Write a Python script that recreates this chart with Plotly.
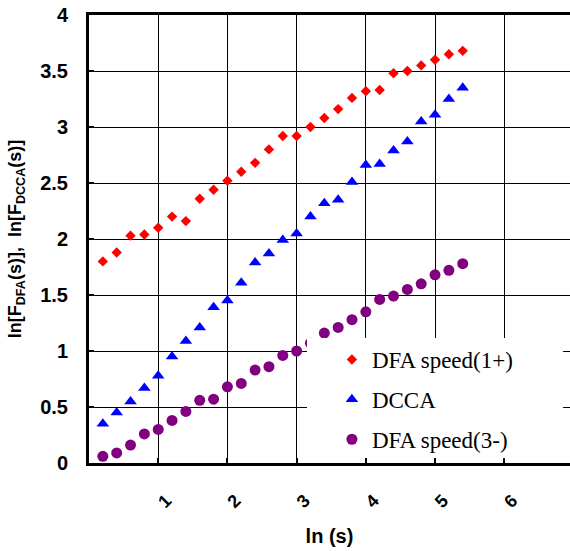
import plotly.graph_objects as go

# ---- data ----
ln_s = [0.2, 0.4, 0.6, 0.8, 1.0, 1.2, 1.4, 1.6, 1.8, 2.0, 2.2, 2.4, 2.6, 2.8,
        3.0, 3.2, 3.4, 3.6, 3.8, 4.0, 4.2, 4.4, 4.6, 4.8, 5.0, 5.2, 5.4]

dfa_speed_1plus = [1.80, 1.88, 2.03, 2.04, 2.10, 2.20, 2.16, 2.36, 2.44, 2.52,
                   2.60, 2.68, 2.80, 2.92, 2.92, 3.00, 3.08, 3.16, 3.26, 3.32,
                   3.33, 3.48, 3.50, 3.55, 3.60, 3.65, 3.68]

dcca = [0.35, 0.45, 0.55, 0.67, 0.78, 0.95, 1.09, 1.21, 1.39, 1.45,
        1.61, 1.79, 1.87, 1.99, 2.05, 2.20, 2.32, 2.35, 2.51, 2.66,
        2.67, 2.79, 2.87, 3.05, 3.11, 3.25, 3.35]

dfa_speed_3minus = [0.06, 0.09, 0.16, 0.26, 0.30, 0.38, 0.46, 0.56, 0.57, 0.68,
                    0.71, 0.83, 0.86, 0.96, 1.00, 1.07, 1.16, 1.21, 1.28, 1.35,
                    1.46, 1.49, 1.55, 1.60, 1.68, 1.72, 1.78]

x_tick_vals = [1, 2, 3, 4, 5, 6]
x_tick_text = ["1", "2", "3", "4", "5", "6"]

series = [
    ("DFA speed(1+)", dfa_speed_1plus, "diamond", "#FF0000", 8),
    ("DCCA", dcca, "triangle-up", "#0000FF", 11),
    ("DFA speed(3-)", dfa_speed_3minus, "circle", "#800080", 11),
]

fig = go.Figure()
for i, (name, ys, sym, col, sz) in enumerate(series):
    fig.add_trace(go.Scatter(
        x=ln_s, y=ys, mode="markers", name=name, legendgroup=f"g{i}",
        marker=dict(symbol=sym, color=col, size=sz, line=dict(width=0)),
    ))

sans = "Liberation Sans, Arial"

# white panel behind the legend (covers grid and points as in the reference)
fig.add_shape(type="rect", xref="x", yref="y", x0=3.15, x1=6.85, y0=0.045, y1=1.116,
              fillcolor="white", line=dict(width=0), layer="above")

fig.update_layout(
    width=570, height=551,
    margin=dict(l=89, r=0, t=15, b=88),
    paper_bgcolor="white", plot_bgcolor="white",
    showlegend=True,
    legend=dict(
        x=0.505, y=0.279, xanchor="left", yanchor="top",
        bgcolor="rgba(0,0,0,0)", borderwidth=0,
        font=dict(family="Liberation Serif, Times New Roman", size=23, color="black"),
        traceorder="grouped", tracegroupgap=7,
    ),
    xaxis=dict(
        range=[0, 6.95], tickvals=x_tick_vals, ticktext=x_tick_text,
        tickangle=-45, ticks="inside", ticklen=5, tickwidth=2, tickcolor="black",
        showgrid=True, gridcolor="black", gridwidth=1,
        showline=True, linecolor="black", linewidth=3, mirror=True,
        zeroline=False, ticklabelstandoff=17, ticklabelshift=8,
        tickfont=dict(family=sans, size=18, color="black", weight="bold"),
        title=dict(text="<b>ln (s)</b>", font=dict(family=sans, size=20, color="black"),
                   standoff=19),
    ),
    yaxis=dict(
        range=[0, 4], dtick=0.5, tick0=0,
        ticks="inside", ticklen=5, tickwidth=2, tickcolor="black",
        showgrid=True, gridcolor="black", gridwidth=1,
        showline=True, linecolor="black", linewidth=3, mirror=False,
        zeroline=False, ticklabelstandoff=14,
        tickfont=dict(family=sans, size=20, color="black", weight="bold"),
        title=dict(text="<b>ln[F<sub>DFA</sub>(s)],&nbsp; ln[F<sub>DCCA</sub>(s)]</b>",
                   font=dict(family=sans, size=18, color="black"),
                   standoff=14),
    ),
)

fig.write_html("out.html")
